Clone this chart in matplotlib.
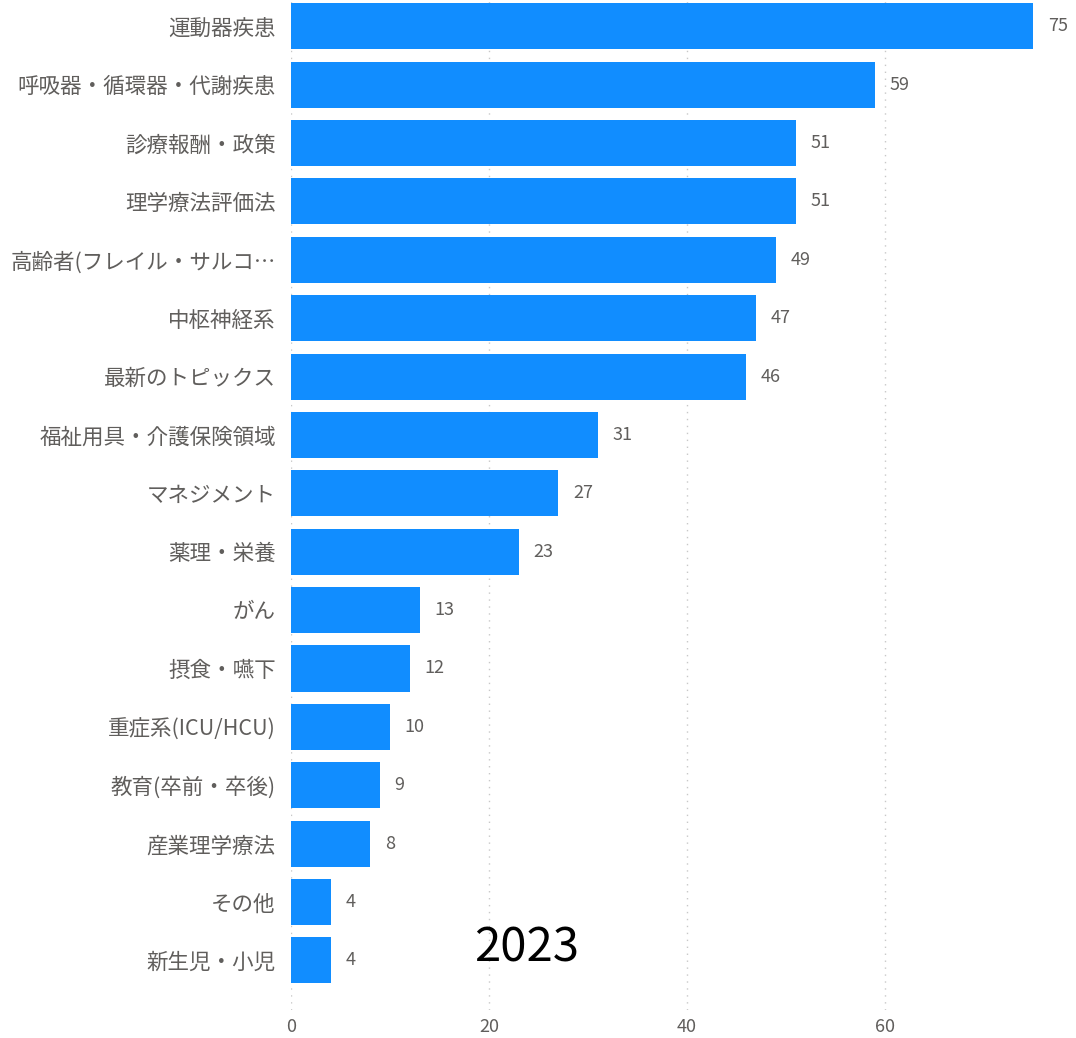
import matplotlib.pyplot as plt

plt.rcParams["font.family"] = ["Noto Sans CJK JP", "DejaVu Sans"]

categories = [
    "運動器疾患",
    "呼吸器・循環器・代謝疾患",
    "診療報酬・政策",
    "理学療法評価法",
    "高齢者(フレイル・サルコ…",
    "中枢神経系",
    "最新のトピックス",
    "福祉用具・介護保険領域",
    "マネジメント",
    "薬理・栄養",
    "がん",
    "摂食・嚥下",
    "重症系(ICU/HCU)",
    "教育(卒前・卒後)",
    "産業理学療法",
    "その他",
    "新生児・小児",
]
counts = [75, 59, 51, 51, 49, 47, 46, 31, 27, 23, 13, 12, 10, 9, 8, 4, 4]
year_label = "2023"

BAR_COLOR = "#118DFF"
TEXT_COLOR = "#605E5C"

fig = plt.figure(figsize=(10.76, 10.38), dpi=100)
ax = fig.add_axes([291 / 1076, 1 - 1010 / 1038, 785 / 1076, 1010 / 1038])

positions = list(range(len(categories)))
ax.barh(positions, counts, height=0.79, color=BAR_COLOR)

for pos, value in zip(positions, counts):
    ax.annotate(str(value), (value, pos), xytext=(10.5, 0), textcoords="offset points",
                ha="left", va="center", fontsize=13, color=TEXT_COLOR)

ax.set_xlim(0, 79.3)
ax.set_ylim(16.85, -0.45)
ax.set_yticks(positions)
ax.set_yticklabels(categories)
ax.set_xticks([0, 20, 40, 60])

ax.tick_params(axis="y", length=0, pad=11, labelsize=15.5, labelcolor=TEXT_COLOR)
ax.tick_params(axis="x", length=0, pad=6, labelsize=13, labelcolor=TEXT_COLOR)

ax.grid(axis="x", color="#C8C8C8", linestyle=(0, (1, 4)), linewidth=1)
ax.set_axisbelow(True)
for spine in ax.spines.values():
    spine.set_visible(False)

fig.text(527 / 1076, 1 - 948 / 1038, year_label, ha="center", va="center",
         fontsize=34, color="black")

fig.savefig("out.png", dpi=100)
